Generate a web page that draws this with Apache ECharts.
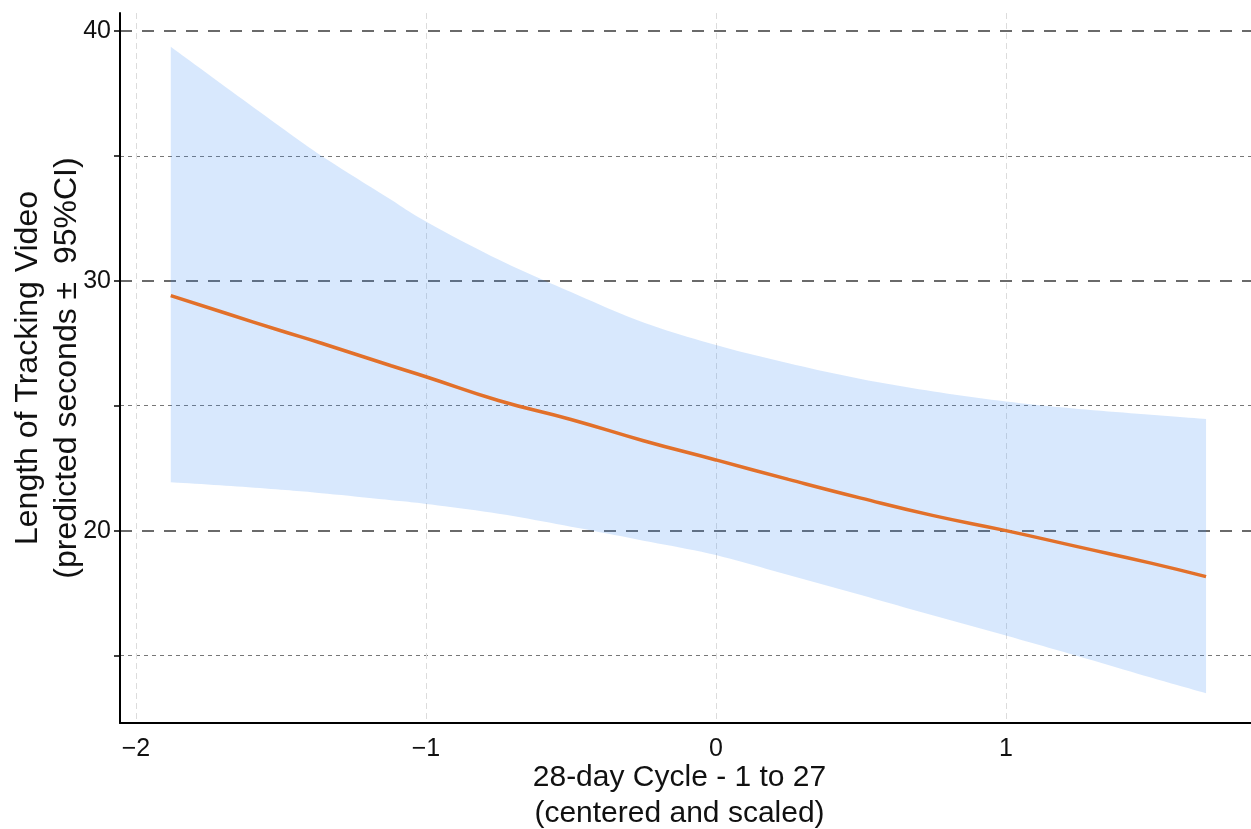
<!DOCTYPE html>
<html>
<head>
<meta charset="utf-8">
<script src="https://cdn.jsdelivr.net/npm/echarts@6/dist/echarts.min.js"></script>
<style>
  html, body { margin: 0; padding: 0; background: #fff; }
  #chart { width: 1251px; height: 829px; }
</style>
</head>
<body>
<div id="chart"></div>
<script>
// ---- data ----
const xValues     = [-1.88, -1.69, -1.5, -1.36, -1.12, -1.0, -0.75, -0.5, -0.25, 0, 0.25, 0.5, 0.75, 1.0, 1.25, 1.5, 1.69];
const fitValues   = [29.41, 28.7, 28.0, 27.5, 26.6, 26.16, 25.21, 24.45, 23.6, 22.83, 22.05, 21.3, 20.6, 20.0, 19.35, 18.7, 18.16];
const upperValues = [39.37, 37.75, 36.15, 35.0, 33.24, 32.37, 30.85, 29.55, 28.33, 27.43, 26.7, 26.07, 25.57, 25.17, 24.87, 24.64, 24.47];
const lowerValues = [21.94, 21.8, 21.64, 21.5, 21.22, 21.07, 20.68, 20.16, 19.6, 19.02, 18.22, 17.42, 16.6, 15.8, 14.97, 14.12, 13.49];

const xTicks = [-2, -1, 0, 1];
const yTicks = [15, 20, 25, 30, 35, 40];
const yLabelTicks = [20, 30, 40];
const yMinorGrid = [15, 25, 35];
const yMajorGrid = [20, 30, 40];

const xTitle = '28-day Cycle - 1 to 27\n(centered and scaled)';
const yTitle = 'Length of Tracking Video\n(predicted seconds \u00b1  95%CI)';

// ---- chart ----
const FONT = '"Liberation Sans", Arial, Helvetica, sans-serif';
const chart = echarts.init(document.getElementById('chart'), null, { renderer: 'canvas' });

const pairs = (ys) => xValues.map((x, i) => [x, ys[i]]);
const bandData = xValues.map((x, i) => [x, lowerValues[i], upperValues[i]]);

// Catmull-Rom smoothing of an already-projected pixel polyline (rendering only)
function smoothPixels(pts, segs) {
  const out = [];
  const n = pts.length;
  for (let i = 0; i < n - 1; i++) {
    const p0 = pts[Math.max(i - 1, 0)], p1 = pts[i], p2 = pts[i + 1], p3 = pts[Math.min(i + 2, n - 1)];
    for (let s = 0; s < segs; s++) {
      const t = s / segs, t2 = t * t, t3 = t2 * t;
      const f = (a, b, c, d) => 0.5 * ((2 * b) + (-a + c) * t + (2 * a - 5 * b + 4 * c - d) * t2 + (-a + 3 * b - 3 * c + d) * t3);
      out.push([f(p0[0], p1[0], p2[0], p3[0]), f(p0[1], p1[1], p2[1], p3[1])]);
    }
  }
  out.push(pts[n - 1]);
  return out;
}

const yBase = { type: 'value', min: 12.30, max: 40.72, position: 'left' };

chart.setOption({
  animation: false,
  backgroundColor: '#ffffff',
  grid: { left: 120, right: 0, top: 13, bottom: 106, containLabel: false, outerBoundsMode: 'none' },
  xAxis: {
    type: 'value', min: -2.055, max: 1.845,
    axisLine: { show: true, onZero: false, lineStyle: { color: '#000', width: 2 } },
    axisTick: { show: false, customValues: xTicks },
    axisLabel: {
      customValues: xTicks, margin: 14, color: '#111', fontSize: 25, fontFamily: FONT,
      formatter: (v) => String(v).replace('-', '\u2212')
    },
    splitLine: { show: true, lineStyle: { color: '#dcdcdc', width: 1, type: [6, 4] } },
    name: xTitle, nameLocation: 'middle', nameGap: 37, nameMoveOverlap: false,
    nameTextStyle: { color: '#111', fontSize: 30, lineHeight: 36, fontFamily: FONT, padding: [0, 12, 0, 0] }
  },
  yAxis: [
    Object.assign({}, yBase, {
      axisLine: { show: true, onZero: false, lineStyle: { color: '#000', width: 2 } },
      axisTick: { show: true, length: 6, customValues: yTicks, lineStyle: { color: '#000', width: 1.5 } },
      axisLabel: { customValues: yLabelTicks, margin: 9, color: '#111', fontSize: 25, fontFamily: FONT },
      splitLine: { show: false },
      name: yTitle, nameLocation: 'middle', nameGap: 33, nameRotate: 90, nameMoveOverlap: false,
      nameTextStyle: { color: '#111', fontSize: 32, lineHeight: 39, fontFamily: FONT }
    }),
    Object.assign({}, yBase, {
      axisLine: { show: false, onZero: false },
      axisTick: { show: false, customValues: yMinorGrid },
      axisLabel: { show: false },
      splitLine: { show: true, lineStyle: { color: '#777', width: 1, type: [4, 4] } }
    }),
    Object.assign({}, yBase, {
      axisLine: { show: false, onZero: false },
      axisTick: { show: false, customValues: yMajorGrid },
      axisLabel: { show: false },
      splitLine: { show: true, lineStyle: { color: '#3a3a3a', width: 1.5, type: [12, 10] } }
    })
  ],
  series: [
    {
      name: 'CI band', type: 'custom', data: bandData, silent: true, z: 1,
      encode: { x: 0, y: [1, 2] },
      renderItem: function (params, api) {
        if (params.dataIndex !== 0) return null;
        const up = xValues.map((x, i) => api.coord([x, upperValues[i]]));
        const lo = xValues.map((x, i) => api.coord([x, lowerValues[i]]));
        const pts = smoothPixels(up, 10).concat(smoothPixels(lo, 10).reverse());
        return {
          type: 'polygon',
          shape: { points: pts },
          style: { fill: '#3d8af7', opacity: 0.2 }
        };
      }
    },
    {
      name: 'fit', type: 'line', data: pairs(fitValues),
      symbol: 'none', smooth: 0.5, lineStyle: { color: '#e2702a', width: 3.5 }, z: 3
    }
  ]
});
</script>
</body>
</html>
